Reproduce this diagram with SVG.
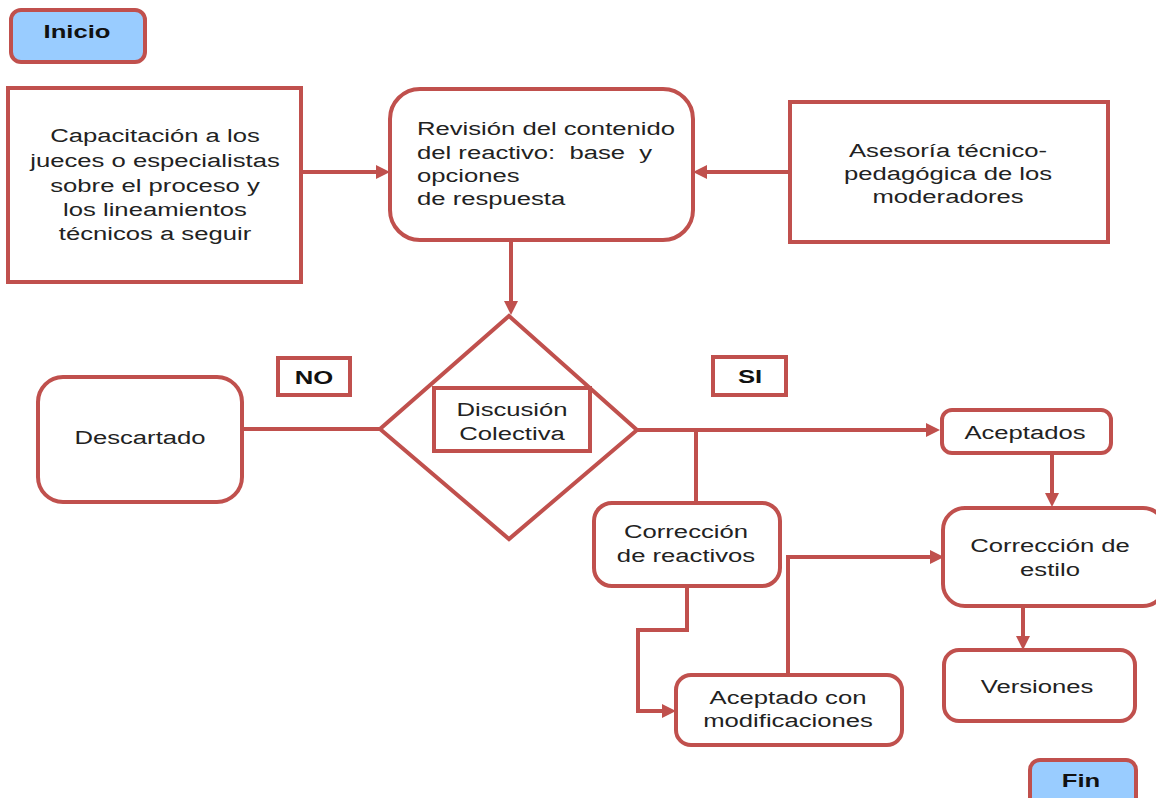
<svg xmlns="http://www.w3.org/2000/svg" width="1156" height="798" viewBox="0 0 1156 798">
<defs>
<style>
.n{fill:#fff;stroke:#C0504D;stroke-width:4}
.b{fill:#99CCFF;stroke:#C0504D;stroke-width:4}
.c{fill:none;stroke:#C0504D;stroke-width:4}
.t{font-family:"Liberation Sans",Arial,sans-serif;font-size:19px;fill:#222;text-anchor:middle;white-space:pre}
.l{text-anchor:start}
.k{font-weight:bold;fill:#111}
</style>
<marker id="ah" markerUnits="userSpaceOnUse" markerWidth="16" markerHeight="14" refX="0" refY="7" orient="auto" viewBox="0 0 16 14">
<path d="M0,0 L14,7 L0,14 Z" fill="#C0504D"/>
</marker>
</defs>
<rect width="1156" height="798" fill="#fff"/>
<g id="connectors">
<path class="c" d="M301,172 H376" marker-end="url(#ah)"/>
<path class="c" d="M790,172 H707" marker-end="url(#ah)"/>
<path class="c" d="M511,240 V301" marker-end="url(#ah)"/>
<path class="c" d="M380,429 H242"/>
<path class="c" d="M637,430 H926" marker-end="url(#ah)"/>
<path class="c" d="M696,430 V503"/>
<path class="c" d="M1052,453 V493" marker-end="url(#ah)"/>
<path class="c" d="M1023,606 V636" marker-end="url(#ah)"/>
<path class="c" d="M687,586 V630 H638 V711 H662" marker-end="url(#ah)"/>
<path class="c" d="M788,675 V557 H930" marker-end="url(#ah)"/>
</g>
<g id="inicio">
<rect class="b" x="11" y="10" width="134" height="52" rx="10"/>
<g transform="translate(77,0) scale(1.35,1)"><text class="t k" x="0" y="38">Inicio</text></g>
</g>
<g id="capacitacion">
<rect class="n" x="8" y="88" width="293" height="194"/>
<g transform="translate(155,0) scale(1.35,1)">
<text class="t" x="0" y="142">Capacitación a los</text>
<text class="t" x="0" y="167">jueces o especialistas</text>
<text class="t" x="0" y="192">sobre el proceso y</text>
<text class="t" x="0" y="216">los lineamientos</text>
<text class="t" x="0" y="240">técnicos a seguir</text>
</g>
</g>
<g id="revision">
<rect class="n" x="390" y="89" width="303" height="151" rx="30"/>
<g transform="translate(417,0) scale(1.35,1)">
<text class="t l" x="0" y="135">Revisión del contenido</text>
<text class="t l" x="0" y="159" xml:space="preserve">del reactivo:  base  y</text>
<text class="t l" x="0" y="182">opciones</text>
<text class="t l" x="0" y="205">de respuesta</text>
</g>
</g>
<g id="asesoria">
<rect class="n" x="790" y="102" width="318" height="140"/>
<g transform="translate(948,0) scale(1.35,1)">
<text class="t" x="0" y="157">Asesoría técnico-</text>
<text class="t" x="0" y="180">pedagógica de los</text>
<text class="t" x="0" y="203">moderadores</text>
</g>
</g>
<g id="no">
<rect class="n" x="278" y="358" width="72" height="37"/>
<g transform="translate(314,0) scale(1.35,1)"><text class="t k" x="0" y="384">NO</text></g>
</g>
<g id="si">
<rect class="n" x="713" y="357" width="73" height="38"/>
<g transform="translate(750,0) scale(1.35,1)"><text class="t k" x="0" y="383">SI</text></g>
</g>
<g id="discusion">
<polygon class="n" points="509,316 637,430 509,539 380,429"/>
<rect class="n" x="434" y="388" width="156" height="63"/>
<g transform="translate(512,0) scale(1.35,1)">
<text class="t" x="0" y="416">Discusión</text>
<text class="t" x="0" y="440">Colectiva</text>
</g>
</g>
<g id="descartado">
<rect class="n" x="38" y="377" width="204" height="125" rx="25"/>
<g transform="translate(140,0) scale(1.35,1)"><text class="t" x="0" y="444">Descartado</text></g>
</g>
<g id="aceptados">
<rect class="n" x="942" y="410" width="169" height="43" rx="10"/>
<g transform="translate(1025,0) scale(1.35,1)"><text class="t" x="0" y="439">Aceptados</text></g>
</g>
<g id="correccion-reactivos">
<rect class="n" x="594" y="503" width="186" height="83" rx="18"/>
<g transform="translate(686,0) scale(1.35,1)">
<text class="t" x="0" y="538">Corrección</text>
<text class="t" x="0" y="562">de reactivos</text>
</g>
</g>
<g id="correccion-estilo">
<rect class="n" x="943" y="508" width="222" height="98" rx="22"/>
<g transform="translate(1050,0) scale(1.35,1)">
<text class="t" x="0" y="552">Corrección de</text>
<text class="t" x="0" y="576">estilo</text>
</g>
</g>
<g id="versiones">
<rect class="n" x="944" y="650" width="191" height="71" rx="15"/>
<g transform="translate(1037,0) scale(1.35,1)"><text class="t" x="0" y="693">Versiones</text></g>
</g>
<g id="aceptado-mod">
<rect class="n" x="676" y="675" width="226" height="70" rx="15"/>
<g transform="translate(788,0) scale(1.35,1)">
<text class="t" x="0" y="704">Aceptado con</text>
<text class="t" x="0" y="727">modificaciones</text>
</g>
</g>
<g id="fin">
<rect class="b" x="1030" y="760" width="106" height="50" rx="10"/>
<g transform="translate(1081,0) scale(1.35,1)"><text class="t k" x="0" y="787">Fin</text></g>
</g>
</svg>
